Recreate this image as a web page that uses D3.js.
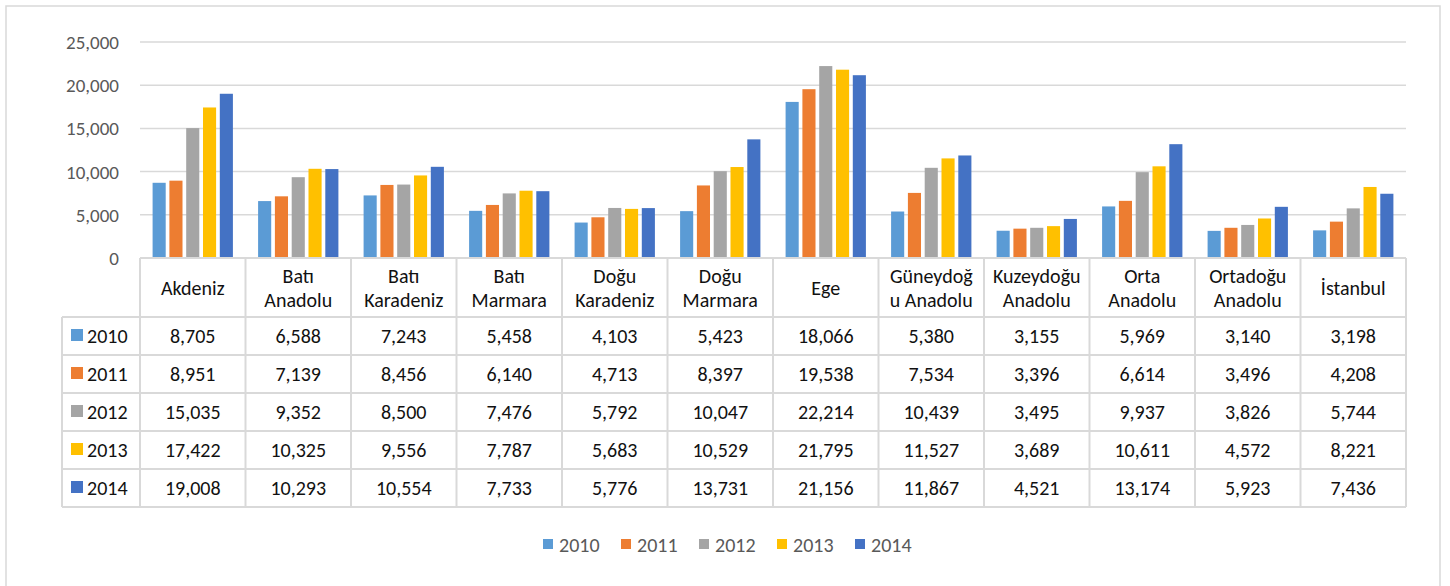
<!DOCTYPE html>
<html>
<head>
<meta charset="utf-8">
<title>Bölgeler 2010-2014</title>
<script src="https://d3js.org/d3.v7.min.js"></script>
<style>
  html, body { margin: 0; padding: 0; background: #fff; }
  svg { display: block; font-family: Carlito, Calibri, Lato, sans-serif; }
  .tick-label { fill: #595959; font-size: 19px; }
  .cell-text { fill: #111; font-size: 20px; }
  .legend-text { fill: #595959; font-size: 20px; }
  .grid { stroke: #d9d9d9; stroke-width: 1.5px; }
  .tbl { stroke: #d9d9d9; stroke-width: 2px; fill: none; }
</style>
</head>
<body>
<svg id="chart" width="1450" height="586"></svg>
<script>

// categories (line breaks as shown in the table header)
var categories = ["Akdeniz", "Batı\nAnadolu", "Batı\nKaradeniz", "Batı\nMarmara", "Doğu\nKaradeniz",
  "Doğu\nMarmara", "Ege", "Güneydoğ\nu Anadolu", "Kuzeydoğu\nAnadolu", "Orta\nAnadolu",
  "Ortadoğu\nAnadolu", "İstanbul"];

var years = ["2010", "2011", "2012", "2013", "2014"];
var colors = ["#5b9bd5", "#ed7d31", "#a5a5a5", "#ffc000", "#4472c4"];

var v2010 = [8705, 6588, 7243, 5458, 4103, 5423, 18066, 5380, 3155, 5969, 3140, 3198];
var v2011 = [8951, 7139, 8456, 6140, 4713, 8397, 19538, 7534, 3396, 6614, 3496, 4208];
var v2012 = [15035, 9352, 8500, 7476, 5792, 10047, 22214, 10439, 3495, 9937, 3826, 5744];
var v2013 = [17422, 10325, 9556, 7787, 5683, 10529, 21795, 11527, 3689, 10611, 4572, 8221];
var v2014 = [19008, 10293, 10554, 7733, 5776, 13731, 21156, 11867, 4521, 13174, 5923, 7436];

var yTicks = [0, 5000, 10000, 15000, 20000, 25000];

var series = [v2010, v2011, v2012, v2013, v2014];

var svg = d3.select("#chart");
var fmt = d3.format(",");

// outer frame
svg.append("rect")
  .attr("x", 6).attr("y", 6)
  .attr("width", 1434).attr("height", 590)
  .attr("fill", "none").attr("stroke", "#d9d9d9").attr("stroke-width", 1.5);

var plotLeft = 140, plotRight = 1406, plotTop = 42, base = 258;
var tblLeft = 62, headH = 59, rowH = 38;

var x = d3.scaleBand().domain(d3.range(categories.length)).range([plotLeft, plotRight]);
var y = d3.scaleLinear().domain([0, 25000]).range([base, plotTop]);
var xs = d3.scaleBand().domain(d3.range(years.length))
  .range([0, x.bandwidth()]).paddingInner(0.22).paddingOuter(0.75);

// grid
svg.selectAll(".grid").data(yTicks.filter(function(d) { return d > 0; }))
  .enter().append("line")
  .attr("class", "grid")
  .attr("x1", plotLeft).attr("x2", plotRight)
  .attr("y1", function(d) { return y(d); }).attr("y2", function(d) { return y(d); });

svg.selectAll(".tick-label").data(yTicks)
  .enter().append("text")
  .attr("class", "tick-label")
  .attr("x", 119)
  .attr("y", function(d) { return y(d) + 7; })
  .attr("text-anchor", "end")
  .text(function(d) { return fmt(d); });

// bars
series.forEach(function(vals, s) {
  svg.append("g").selectAll("rect").data(vals)
    .enter().append("rect")
    .attr("x", function(d, i) { return x(i) + xs(s); })
    .attr("width", xs.bandwidth())
    .attr("y", function(d) { return y(d); })
    .attr("height", function(d) { return base - y(d); })
    .attr("fill", colors[s]);
});

// table lines
var tbl = svg.append("g");
var bottom = base + headH + rowH * years.length;
tbl.append("line").attr("class", "tbl").attr("x1", plotLeft).attr("x2", plotRight).attr("y1", base).attr("y2", base);
for (var r = 0; r <= years.length; r++) {
  var yy = base + headH + r * rowH;
  tbl.append("line").attr("class", "tbl").attr("x1", tblLeft).attr("x2", plotRight).attr("y1", yy).attr("y2", yy);
}
for (var c = 0; c <= categories.length; c++) {
  var xx = c < categories.length ? x(c) : plotRight;
  tbl.append("line").attr("class", "tbl").attr("x1", xx).attr("x2", xx).attr("y1", base).attr("y2", bottom);
}
tbl.append("line").attr("class", "tbl").attr("x1", tblLeft).attr("x2", tblLeft).attr("y1", base + headH).attr("y2", bottom);

// header labels
categories.forEach(function(name, i) {
  var lines = name.split("\n");
  var cy = base + headH / 2;
  var t = svg.append("text").attr("class", "cell-text").attr("text-anchor", "middle");
  lines.forEach(function(l, k) {
    t.append("tspan")
      .attr("x", x(i) + x.bandwidth() / 2)
      .attr("y", cy + 7 + (k - (lines.length - 1) / 2) * 24)
      .text(l);
  });
});

// rows
series.forEach(function(vals, s) {
  var ry = base + headH + s * rowH;
  svg.append("rect").attr("x", 71).attr("y", ry + rowH / 2 - 7).attr("width", 12).attr("height", 12).attr("fill", colors[s]);
  svg.append("text").attr("class", "cell-text").attr("x", 87).attr("y", ry + rowH / 2 + 7).text(years[s]);
  svg.append("g").selectAll("text").data(vals)
    .enter().append("text")
    .attr("class", "cell-text")
    .attr("text-anchor", "middle")
    .attr("x", function(d, i) { return x(i) + x.bandwidth() / 2; })
    .attr("y", ry + rowH / 2 + 7)
    .text(function(d) { return fmt(d); });
});

// legend
var leg = svg.append("g").selectAll("g").data(years)
  .enter().append("g")
  .attr("transform", function(d, i) { return "translate(" + (543 + i * 78) + ",545)"; });
leg.append("rect").attr("x", 0).attr("y", -6).attr("width", 10).attr("height", 10)
  .attr("fill", function(d, i) { return colors[i]; });
leg.append("text").attr("class", "legend-text").attr("x", 16).attr("y", 7).text(function(d) { return d; });

</script>
</body>
</html>
